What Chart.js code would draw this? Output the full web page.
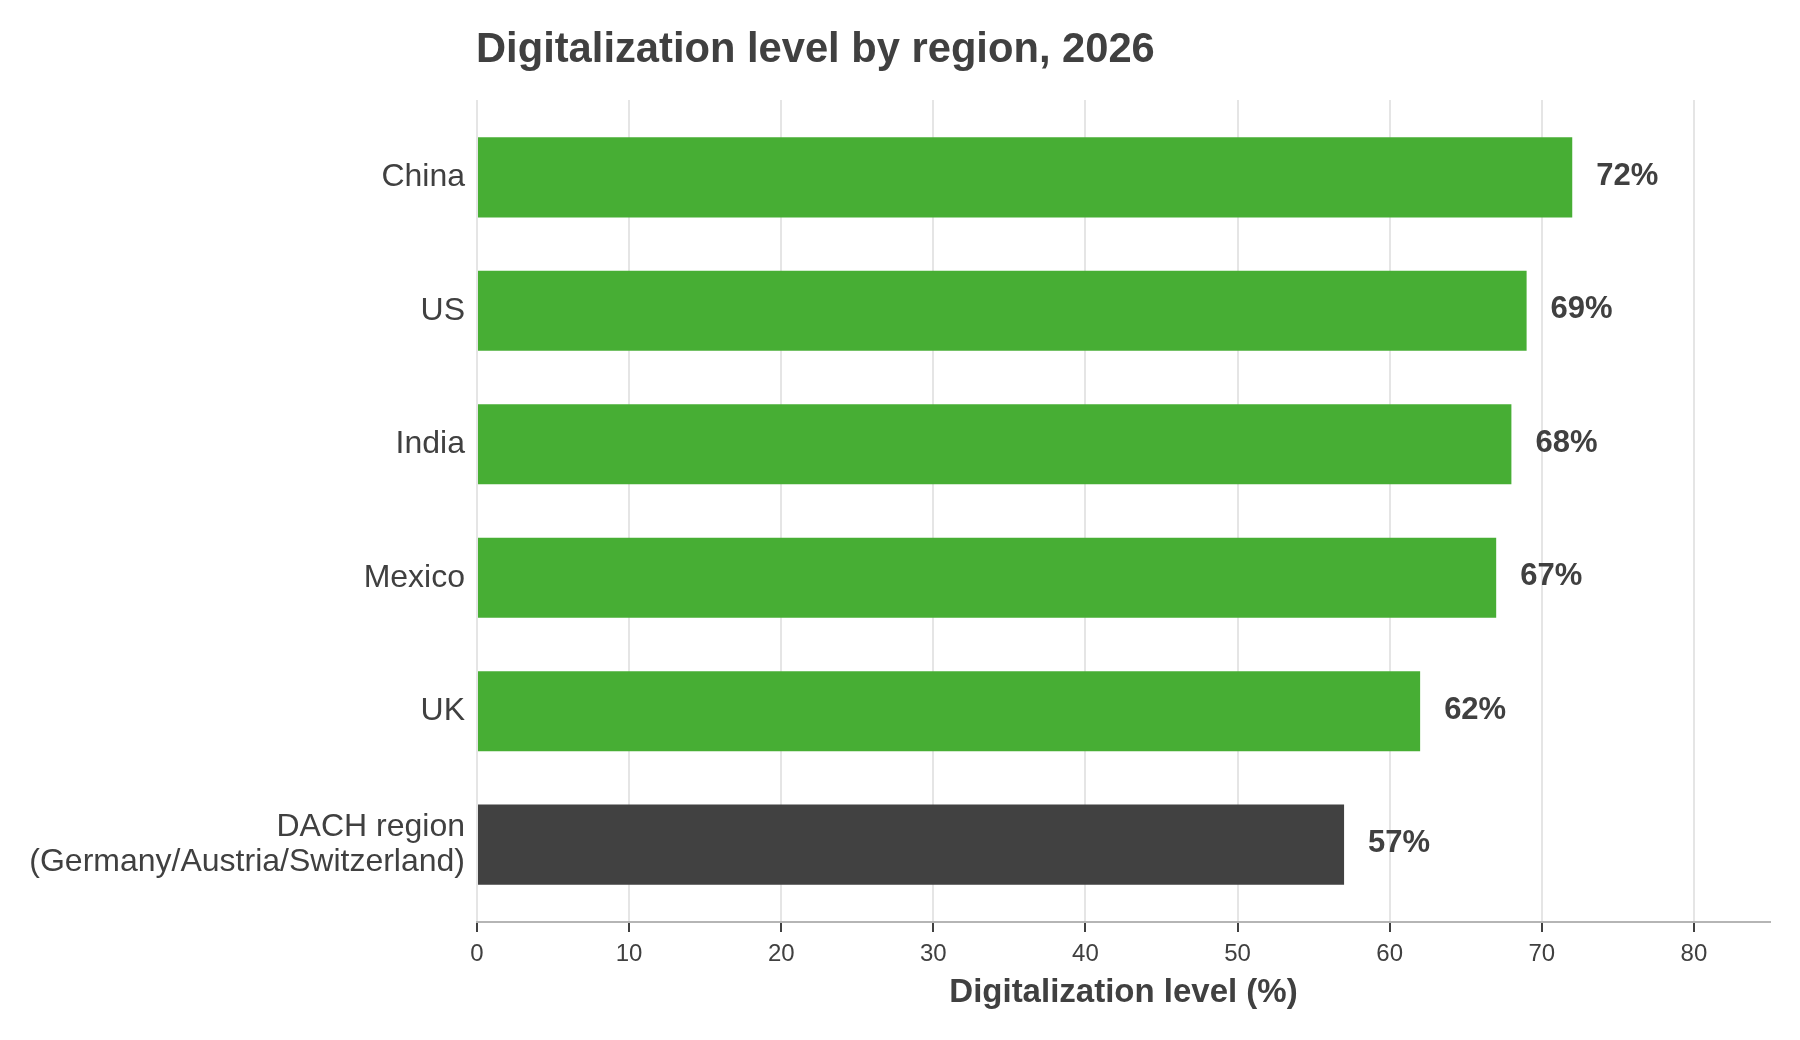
<!DOCTYPE html>
<html>
<head>
<meta charset="utf-8">
<script src="https://cdn.jsdelivr.net/npm/chart.js@4.4.1/dist/chart.umd.min.js"></script>
<style>
  html, body { margin: 0; padding: 0; background: #ffffff; }
  #wrap { width: 1800px; height: 1040px; }
</style>
</head>
<body>
<div id="wrap"><canvas id="c" width="1800" height="1040"></canvas></div>
<script>
// ---- data ----
const chartTitle = 'Digitalization level by region, 2026';
const axisTitle = 'Digitalization level (%)';
const categories = ['China', 'US', 'India', 'Mexico', 'UK', ['DACH region', '(Germany/Austria/Switzerland)']];
const values = [72, 69, 68, 67, 62, 57];
const xTicks = [0, 10, 20, 30, 40, 50, 60, 70, 80];
const highlightIndex = 5;

// ---- styles ----
const FONT = '"Liberation Sans", Arial, Helvetica, sans-serif';
const TEXT = '#404040';
const GREEN = '#47ae34';
const DARK = '#414141';

const barColors = values.map((v, i) => i === highlightIndex ? DARK : GREEN);

const titlePlugin = {
  id: 'leftTitle',
  afterDraw(chart) {
    const ctx = chart.ctx;
    ctx.save();
    ctx.font = 'bold 41.7px ' + FONT;
    ctx.fillStyle = TEXT;
    ctx.textAlign = 'left';
    ctx.textBaseline = 'alphabetic';
    ctx.fillText(chartTitle, chart.chartArea.left - 1, 62);
    ctx.restore();
  }
};

const valueLabels = {
  id: 'valueLabels',
  afterDatasetsDraw(chart) {
    const ctx = chart.ctx;
    const meta = chart.getDatasetMeta(0);
    ctx.save();
    ctx.font = 'bold 31px ' + FONT;
    ctx.fillStyle = TEXT;
    ctx.textAlign = 'left';
    ctx.textBaseline = 'middle';
    meta.data.forEach((bar, i) => {
      ctx.fillText(values[i] + '%', bar.x + 24, bar.y - 1);
    });
    ctx.restore();
  }
};

new Chart(document.getElementById('c'), {
  type: 'bar',
  data: {
    datasets: [{
      data: values.map((v, i) => ({ x: v, y: i })),
      backgroundColor: barColors,
      borderWidth: 0,
      barPercentage: 0.6,
      categoryPercentage: 1.0
    }]
  },
  options: {
    indexAxis: 'y',
    responsive: false,
    devicePixelRatio: 1,
    animation: false,
    layout: { padding: { top: 100, right: 30, bottom: 0, left: 0 } },
    plugins: {
      legend: { display: false },
      tooltip: { enabled: false },
      title: { display: false }
    },
    scales: {
      x: {
        type: 'linear',
        position: 'bottom',
        min: 0,
        max: 85,
        offset: false,
        afterBuildTicks(scale) { scale.ticks = xTicks.map(v => ({ value: v })); },
        afterFit(scale) { scale.height = 118; },
        grid: {
          display: true,
          color: '#e5e5e5',
          lineWidth: 2,
          drawTicks: true,
          tickLength: 10,
          tickColor: TEXT,
          tickWidth: 2
        },
        border: { display: true, color: '#b5b5b5', width: 2 },
        ticks: {
          color: TEXT,
          font: { family: FONT, size: 24 },
          padding: 8,
          maxRotation: 0
        },
        title: {
          display: true,
          text: axisTitle,
          color: TEXT,
          font: { family: FONT, size: 33, weight: 'bold' },
          padding: { top: 0, bottom: 27 }
        }
      },
      y: {
        type: 'linear',
        position: 'left',
        reverse: true,
        offset: false,
        min: -0.58,
        max: 5.58,
        afterBuildTicks(scale) { scale.ticks = categories.map((c, i) => ({ value: i })); },
        afterFit(scale) { scale.width = 477; },
        grid: { display: false, drawTicks: false, offset: false },
        border: { display: false },
        ticks: {
          color: TEXT,
          font: { family: FONT, size: 32, lineHeight: 1.1 },
          padding: 12,
          callback: (value) => categories[value]
        }
      }
    }
  },
  plugins: [titlePlugin, valueLabels]
});
</script>
</body>
</html>
